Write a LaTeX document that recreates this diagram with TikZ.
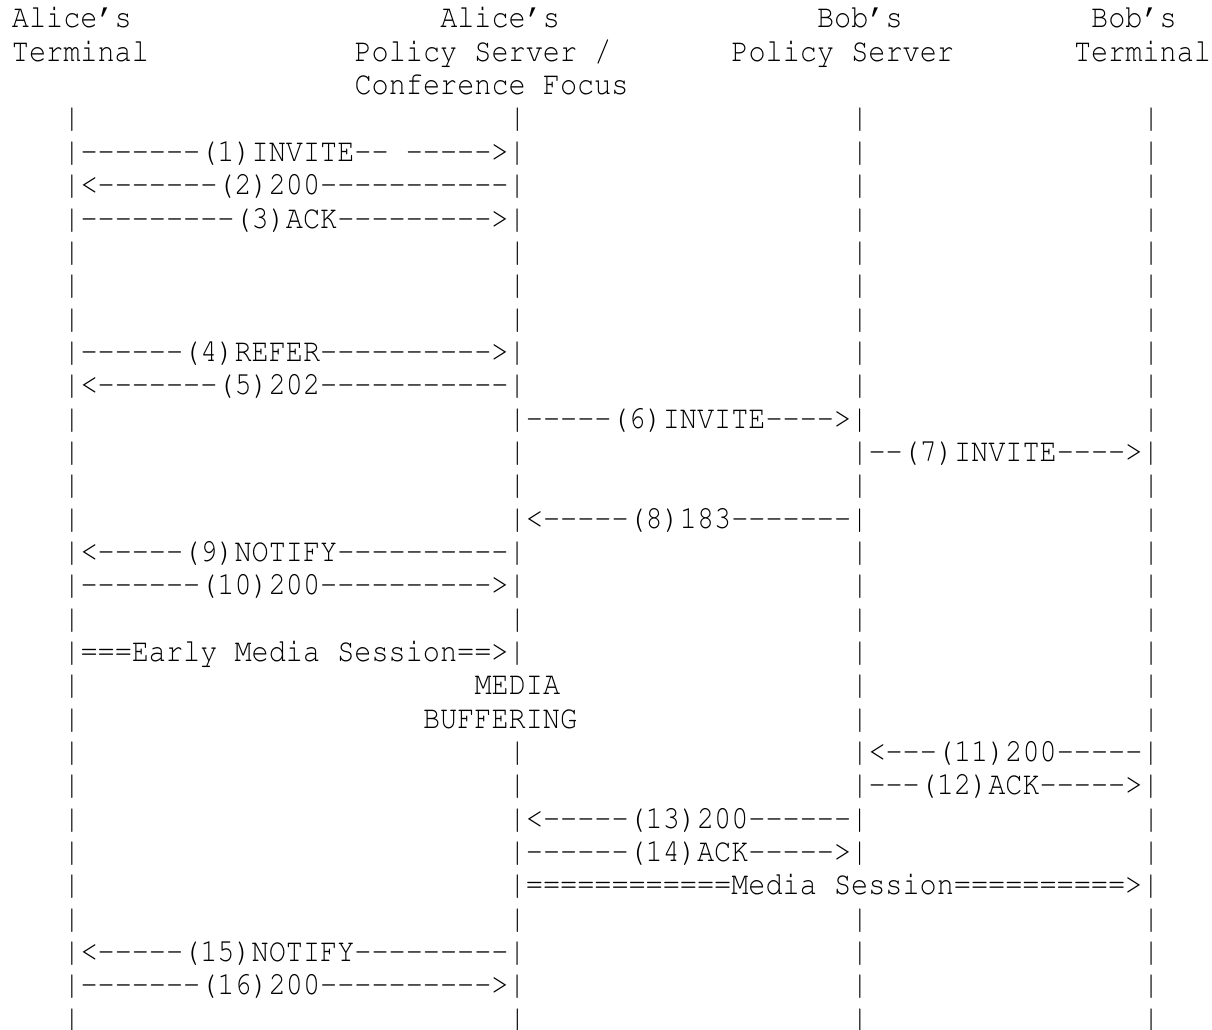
\documentclass[tikz,border=0pt]{standalone}
\usepackage[T1]{fontenc}
\usepackage{graphicx}
\tikzset{
  txt/.style={anchor=base west, inner sep=0pt, outer sep=0pt,
    font=\fontencoding{T1}\fontfamily{pcr}\fontsize{32.5}{39}\selectfont}
}
% #1 name, #2 column, #3 row, #4 text
\newcommand\seg[4]{\node[txt] (#1) at ({12+#2*17.13},{128+(#3-4)*33.333}) {\scalebox{0.878}[1]{#4}};}
\newcommand\vb{|}
\newcommand\hy[1]{\foreach\i in {1,...,#1}{-}}
\newcommand\eq[1]{\foreach\i in {1,...,#1}{=}}
\newcommand\lbar[3]{\seg{#1}{#2}{#3}{\vb}}
\newcommand\allbars[1]{\lbar{a#1}{3}{#1}\lbar{b#1}{29}{#1}\lbar{c#1}{49}{#1}\lbar{d#1}{66}{#1}}
\begin{document}
\begin{tikzpicture}[x=1pt,y=-1pt]
\useasboundingbox (0,0) rectangle (1212,1030);
% headers
\seg{h1a}{0}{1}{Alice's}
\seg{h1b}{25}{1}{Alice's}
\seg{h1c}{47}{1}{Bob's}
\seg{h1d}{63}{1}{Bob's}
\seg{h2a}{0}{2}{Terminal}
\seg{h2b}{20}{2}{Policy Server /}
\seg{h2c}{42}{2}{Policy Server}
\seg{h2d}{62}{2}{Terminal}
\seg{h3b}{20}{3}{Conference Focus}
% row 4
\allbars{4}
% 5-7
\seg{m1}{3}{5}{\vb\hy{7}(1)INVITE\hy{2} \hy{5}>\vb}\lbar{c5}{49}{5}\lbar{d5}{66}{5}
\seg{m2}{3}{6}{\vb<\hy{7}(2)200\hy{11}\vb}\lbar{c6}{49}{6}\lbar{d6}{66}{6}
\seg{m3}{3}{7}{\vb\hy{9}(3)ACK\hy{9}>\vb}\lbar{c7}{49}{7}\lbar{d7}{66}{7}
\allbars{8}
\allbars{9}
\allbars{10}
\seg{m4}{3}{11}{\vb\hy{6}(4)REFER\hy{10}>\vb}\lbar{c11}{49}{11}\lbar{d11}{66}{11}
\seg{m5}{3}{12}{\vb<\hy{7}(5)202\hy{11}\vb}\lbar{c12}{49}{12}\lbar{d12}{66}{12}
\lbar{a13}{3}{13}\seg{m6}{29}{13}{\vb\hy{5}(6)INVITE\hy{4}>\vb}\lbar{d13}{66}{13}
\lbar{a14}{3}{14}\lbar{b14}{29}{14}\seg{m7}{49}{14}{\vb\hy{2}(7)INVITE\hy{4}>\vb}
\allbars{15}
\lbar{a16}{3}{16}\seg{m8}{29}{16}{\vb<\hy{5}(8)183\hy{7}\vb}\lbar{d16}{66}{16}
\seg{m9}{3}{17}{\vb<\hy{5}(9)NOTIFY\hy{10}\vb}\lbar{c17}{49}{17}\lbar{d17}{66}{17}
\seg{m10}{3}{18}{\vb\hy{7}(10)200\hy{10}>\vb}\lbar{c18}{49}{18}\lbar{d18}{66}{18}
\allbars{19}
\seg{em}{3}{20}{\vb\eq{3}Early Media Session\eq{2}>\vb}\lbar{c20}{49}{20}\lbar{d20}{66}{20}
\lbar{a21}{3}{21}\seg{mb1}{27}{21}{MEDIA}\lbar{c21}{49}{21}\lbar{d21}{66}{21}
\lbar{a22}{3}{22}\seg{mb2}{24}{22}{BUFFERING}\lbar{c22}{49}{22}\lbar{d22}{66}{22}
\lbar{a23}{3}{23}\lbar{b23}{29}{23}\seg{m11}{49}{23}{\vb<\hy{3}(11)200\hy{5}\vb}
\lbar{a24}{3}{24}\lbar{b24}{29}{24}\seg{m12}{49}{24}{\vb\hy{3}(12)ACK\hy{5}>\vb}
\lbar{a25}{3}{25}\seg{m13}{29}{25}{\vb<\hy{5}(13)200\hy{6}\vb}\lbar{d25}{66}{25}
\lbar{a26}{3}{26}\seg{m14}{29}{26}{\vb\hy{6}(14)ACK\hy{5}>\vb}\lbar{d26}{66}{26}
\lbar{a27}{3}{27}\seg{ms}{29}{27}{\vb\eq{12}Media Session\eq{10}>\vb}
\allbars{28}
\seg{m15}{3}{29}{\vb<\hy{5}(15)NOTIFY\hy{9}\vb}\lbar{c29}{49}{29}\lbar{d29}{66}{29}
\seg{m16}{3}{30}{\vb\hy{7}(16)200\hy{10}>\vb}\lbar{c30}{49}{30}\lbar{d30}{66}{30}
\allbars{31}
\end{tikzpicture}
\end{document}
